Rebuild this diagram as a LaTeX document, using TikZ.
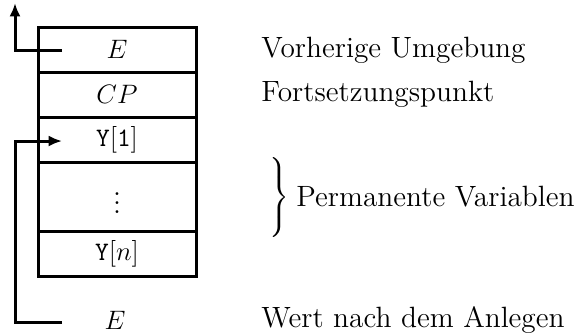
\documentclass[tikz,border=0pt]{standalone}
\usetikzlibrary{arrows.meta}
\begin{document}
\begin{tikzpicture}[x=0.45pt,y=-0.45pt,
  every node/.style={font=\fontsize{13.2pt}{16pt}\selectfont},
  frame/.style={draw,line width=1.35pt,inner sep=0pt,outer sep=0pt,
    minimum width=71.1pt,anchor=north west},
  label/.style={anchor=west,inner sep=0pt},
  ptr/.style={line width=1.35pt,-{Latex[length=6pt,width=5pt]}}]
\useasboundingbox (0,0) rectangle (579,335);
% environment frame cells
\node[frame,minimum height=20.25pt] (e)   at (38,27)  {$E$};
\node[frame,minimum height=20.25pt] (cp)  at (38,72)  {$CP$};
\node[frame,minimum height=20.25pt] (y1)  at (38,117) {$\mathtt{Y}[\mathtt{1}]$};
\node[frame,minimum height=31.05pt] (dd)  at (38,162) {$\vdots$};
\node[frame,minimum height=20.25pt] (yn)  at (38,231) {$\mathtt{Y}[n]$};
\node (enew) at (115,320) {$E$};
% descriptions
\node[label] (t1) at (261,50)  {Vorherige Umgebung};
\node[label] (t2) at (261,94)  {Fortsetzungspunkt};
\node[label] (br) at (266,197) {$\left.\vrule height 20pt depth 15pt width 0pt\right\}$};
\node[label] (t3) at (296,197) {Permanente Variablen};
\node[label] (t4) at (261,320) {Wert nach dem Anlegen};
% pointers
\coordinate (eout) at (62,50);
\coordinate (up)   at (15,3);
\coordinate (nin)  at (62,322);
\coordinate (yin)  at (62,141);
\draw[ptr] (eout) -- (up |- eout) -- (up);
\draw[ptr] (nin) -- (15,322) -- (15,141) -- (yin);
\end{tikzpicture}
\end{document}
